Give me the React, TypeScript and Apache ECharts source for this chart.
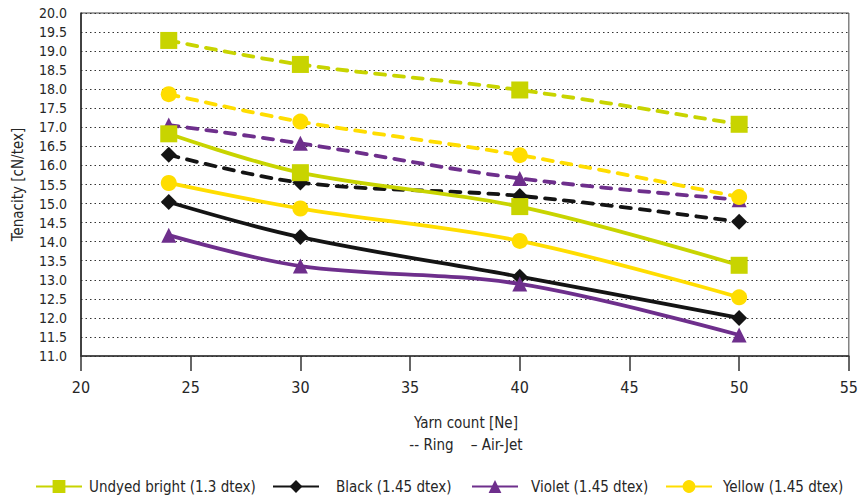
import React, { useEffect, useRef } from "react";
import * as echarts from "echarts";

const xValues = [24, 30, 40, 50];
const undyedRing = [19.28, 18.65, 17.98, 17.08];
const undyedAirJet = [16.83, 15.81, 14.92, 13.38];
const blackRing = [16.28, 15.55, 15.2, 14.52];
const blackAirJet = [15.04, 14.12, 13.08, 12.0];
const violetRing = [17.06, 16.58, 15.66, 15.1];
const violetAirJet = [14.17, 13.36, 12.89, 11.55];
const yellowRing = [17.87, 17.15, 16.27, 15.17];
const yellowAirJet = [15.54, 14.87, 14.02, 12.54];

const legendNames = [
  "Undyed bright (1.3 dtex)",
  "Black (1.45 dtex)",
  "Violet (1.45 dtex)",
  "Yellow (1.45 dtex)",
];

const FONT = "'DejaVu Sans Condensed', 'Liberation Sans Narrow', sans-serif";
const TEXT = "#262626";

const C_UNDYED = "#c8d400";
const C_BLACK = "#141414";
const C_VIOLET = "#6e2f8c";
const C_YELLOW = "#ffdd00";

const pairs = (ys: number[]) => xValues.map((x, i) => [x, ys[i]]);

function mk(name: string, ys: number[], color: string, symbol: string, size: number, dashed: boolean) {
  return {
    name,
    type: "line",
    data: pairs(ys),
    smooth: 0.35,
    symbol,
    symbolSize: size,
    itemStyle: { color, opacity: 1 },
    lineStyle: {
      color,
      width: 3.8,
      type: dashed ? [10, 9] : "solid",
      cap: dashed ? "round" : "butt",
    },
    z: dashed ? 2 : 3,
  };
}

export default function App() {
  const ref = useRef<HTMLDivElement>(null);
  useEffect(() => {
    if (!ref.current) return;
    const chart = echarts.init(ref.current, null, { renderer: "svg" });
    const legendLefts = [35, 272, 471, 665];
    const legendPads = [2, 12, 8, 6];
    chart.setOption({
      animation: false,
      textStyle: { fontFamily: FONT },
      grid: {
        left: 81,
        right: 9,
        top: 13,
        bottom: 139,
        show: true,
        borderColor: "#444",
        borderWidth: 1,
      },
      xAxis: {
        type: "value",
        min: 20,
        max: 55,
        interval: 5,
        axisLine: { show: true, onZero: false, lineStyle: { color: "#333", width: 1.5 } },
        axisTick: { show: true, length: 15, lineStyle: { color: "#333", width: 1.5 } },
        axisLabel: { color: TEXT, fontSize: 16, fontFamily: FONT, margin: 23 },
        splitLine: { show: false },
      },
      yAxis: {
        type: "value",
        min: 11,
        max: 20,
        interval: 0.5,
        name: "Tenacity [cN/tex]",
        nameLocation: "middle",
        nameGap: 56,
        nameTextStyle: { color: TEXT, fontSize: 15, fontFamily: FONT },
        axisLine: { show: true, lineStyle: { color: "#222", width: 1.5 } },
        axisTick: { show: false },
        axisLabel: {
          color: TEXT,
          fontSize: 14,
          fontFamily: FONT,
          margin: 14,
          formatter: (v: number) => v.toFixed(1),
        },
        splitLine: { show: true, lineStyle: { color: "#333", type: [1.5, 3], width: 1 } },
      },
      legend: legendNames.map((n, i) => ({
        data: [n],
        left: legendLefts[i],
        top: 479,
        itemWidth: 46,
        itemHeight: 16,
        padding: 0,
        textStyle: { color: TEXT, fontSize: 15, fontFamily: FONT, padding: [0, 0, 0, legendPads[i]] },
      })),
      graphic: [
        {
          type: "text",
          x: 466,
          y: 423,
          style: {
            text: "Yarn count [Ne]",
            fill: TEXT,
            font: `15px ${FONT}`,
            align: "center",
            verticalAlign: "middle",
          },
        },
        {
          type: "text",
          x: 466,
          y: 445,
          style: {
            text: "-- Ring    – Air-Jet",
            fill: TEXT,
            font: `15px ${FONT}`,
            align: "center",
            verticalAlign: "middle",
          },
        },
      ],
      series: [
        mk("Black Ring", blackRing, C_BLACK, "diamond", 16, true),
        mk("Violet Ring", violetRing, C_VIOLET, "triangle", 15, true),
        mk("Yellow Ring", yellowRing, C_YELLOW, "circle", 16, true),
        mk("Undyed Ring", undyedRing, C_UNDYED, "rect", 17, true),
        mk(legendNames[1], blackAirJet, C_BLACK, "diamond", 16, false),
        mk(legendNames[2], violetAirJet, C_VIOLET, "triangle", 15, false),
        mk(legendNames[3], yellowAirJet, C_YELLOW, "circle", 16, false),
        mk(legendNames[0], undyedAirJet, C_UNDYED, "rect", 17, false),
      ],
    });
    return () => chart.dispose();
  }, []);
  return <div ref={ref} style={{ width: 861, height: 495, position: "absolute", left: 0, top: 0 }} />;
}
